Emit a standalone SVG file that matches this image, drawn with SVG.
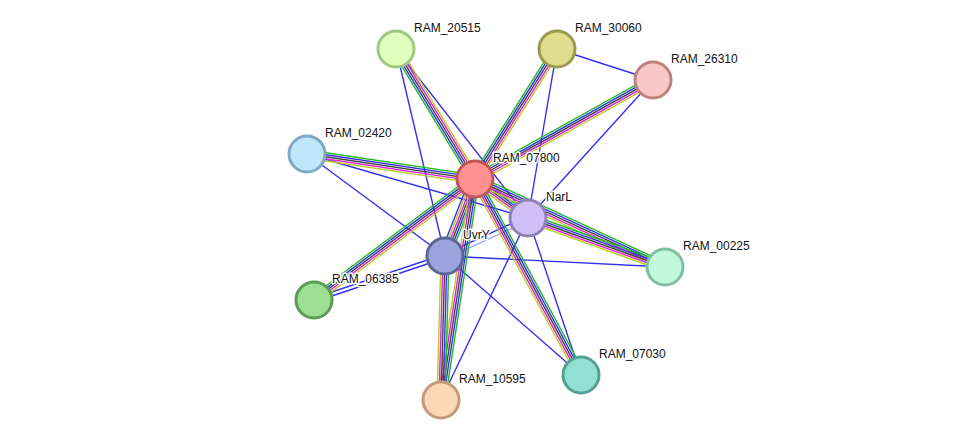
<svg xmlns="http://www.w3.org/2000/svg" width="976" height="446" viewBox="0 0 976 446">
<style>
.b line{stroke-width:1.4}
.g{stroke:#22bb22}.u{stroke:#3333ee}.k{stroke:#444}.m{stroke:#dd22dd}.y{stroke:#bbcc22}
.s{stroke:#3333ee;stroke-width:1.4}
circle{stroke-width:3}
text{font-family:"Liberation Sans",Arial,sans-serif;font-size:12px;fill:#111;stroke:#fff;stroke-width:3;paint-order:stroke;stroke-linejoin:round}
</style>
<rect width="976" height="446" fill="#fff"/>
<g id="connectors">
<line class="s" x1="396" y1="49" x2="445" y2="256"/>
<line class="s" x1="396" y1="49" x2="528" y2="218"/>
<line class="s" x1="557" y1="49" x2="528" y2="218"/>
<line class="s" x1="557" y1="49" x2="653" y2="80"/>
<line class="s" x1="653" y1="80" x2="528" y2="218"/>
<line class="s" x1="307" y1="154" x2="528" y2="218"/>
<line class="s" x1="307" y1="154" x2="445" y2="256"/>
<line class="s" x1="314" y1="298" x2="445" y2="254"/>
<line class="s" x1="314" y1="302" x2="445" y2="258"/>
<line class="s" x1="665" y1="267" x2="445" y2="256"/>
<line class="s" x1="581" y1="375" x2="445" y2="256"/>
<line class="s" x1="581" y1="375" x2="528" y2="218"/>
<line class="s" x1="441" y1="400" x2="528" y2="218"/>
<line class="s" x1="445" y1="254" x2="528" y2="216"/>
<line x1="445" y1="259" x2="528" y2="221" stroke="#99aaff" stroke-width="1.4"/>
<g class="b" transform="translate(475,179) rotate(-121.3)"><line class="g" x1="0" y1="-4" x2="152" y2="-4"/><line class="u" x1="0" y1="-2" x2="152" y2="-2"/><line class="k" x1="0" y1="0" x2="152" y2="0"/><line class="m" x1="0" y1="2" x2="152" y2="2"/><line class="y" x1="0" y1="4" x2="152" y2="4"/></g>
<g class="b" transform="translate(475,179) rotate(-57.8)"><line class="g" x1="0" y1="-4" x2="154" y2="-4"/><line class="u" x1="0" y1="-2" x2="154" y2="-2"/><line class="k" x1="0" y1="0" x2="154" y2="0"/><line class="m" x1="0" y1="2" x2="154" y2="2"/><line class="y" x1="0" y1="4" x2="154" y2="4"/></g>
<g class="b" transform="translate(475,179) rotate(-29.1)"><line class="g" x1="0" y1="-4" x2="204" y2="-4"/><line class="u" x1="0" y1="-2" x2="204" y2="-2"/><line class="k" x1="0" y1="0" x2="204" y2="0"/><line class="m" x1="0" y1="2" x2="204" y2="2"/><line class="y" x1="0" y1="4" x2="204" y2="4"/></g>
<g class="b" transform="translate(307,154) rotate(8.5)"><line class="g" x1="0" y1="-4" x2="170" y2="-4"/><line class="u" x1="0" y1="-2" x2="170" y2="-2"/><line class="k" x1="0" y1="0" x2="170" y2="0"/><line class="m" x1="0" y1="2" x2="170" y2="2"/><line class="y" x1="0" y1="4" x2="170" y2="4"/></g>
<g class="b" transform="translate(475,179) rotate(36.3)"><line class="g" x1="0" y1="-4" x2="66" y2="-4"/><line class="u" x1="0" y1="-2" x2="66" y2="-2"/><line class="k" x1="0" y1="0" x2="66" y2="0"/><line class="m" x1="0" y1="2" x2="66" y2="2"/><line class="y" x1="0" y1="4" x2="66" y2="4"/></g>
<g class="b" transform="translate(475,179) rotate(111.3)"><line class="g" x1="0" y1="-5" x2="83" y2="-5"/><line class="u" x1="0" y1="-3" x2="83" y2="-3"/><line class="k" x1="0" y1="-1" x2="83" y2="-1"/><line class="m" x1="0" y1="1" x2="83" y2="1"/><line class="y" x1="0" y1="3" x2="83" y2="3"/><line class="u" x1="0" y1="5" x2="83" y2="5"/></g>
<g class="b" transform="translate(475,179) rotate(24.8)"><line class="g" x1="0" y1="-4" x2="209" y2="-4"/><line class="u" x1="0" y1="-2" x2="209" y2="-2"/><line class="k" x1="0" y1="0" x2="209" y2="0"/><line class="m" x1="0" y1="2" x2="209" y2="2"/><line class="y" x1="0" y1="4" x2="209" y2="4"/></g>
<g class="b" transform="translate(475,179) rotate(143.1)"><line class="y" x1="0" y1="-4" x2="201" y2="-4"/><line class="m" x1="0" y1="-2" x2="201" y2="-2"/><line class="k" x1="0" y1="0" x2="201" y2="0"/><line class="u" x1="0" y1="2" x2="201" y2="2"/><line class="g" x1="0" y1="4" x2="201" y2="4"/></g>
<g class="b" transform="translate(475,179) rotate(61.6)"><line class="g" x1="0" y1="-4" x2="223" y2="-4"/><line class="u" x1="0" y1="-2" x2="223" y2="-2"/><line class="k" x1="0" y1="0" x2="223" y2="0"/><line class="m" x1="0" y1="2" x2="223" y2="2"/><line class="y" x1="0" y1="4" x2="223" y2="4"/></g>
<g class="b" transform="translate(475,179) rotate(98.7)"><line class="g" x1="0" y1="-4" x2="224" y2="-4"/><line class="u" x1="0" y1="-2" x2="224" y2="-2"/><line class="k" x1="0" y1="0" x2="224" y2="0"/><line class="m" x1="0" y1="2" x2="224" y2="2"/><line class="y" x1="0" y1="4" x2="224" y2="4"/></g>
<g class="b" transform="translate(445,256) rotate(91.6)"><line class="g" x1="0" y1="-4" x2="144" y2="-4"/><line class="u" x1="0" y1="-2" x2="144" y2="-2"/><line class="k" x1="0" y1="0" x2="144" y2="0"/><line class="m" x1="0" y1="2" x2="144" y2="2"/><line class="y" x1="0" y1="4" x2="144" y2="4"/></g>
<g class="b" transform="translate(528,218) rotate(19.7)"><line class="g" x1="0" y1="-4" x2="146" y2="-4"/><line class="u" x1="0" y1="-2" x2="146" y2="-2"/><line class="k" x1="0" y1="0" x2="146" y2="0"/><line class="m" x1="0" y1="2" x2="146" y2="2"/><line class="y" x1="0" y1="4" x2="146" y2="4"/></g>
</g>
<g id="n20515"><circle cx="396" cy="49" r="18" fill="#dfffbf" stroke="#a0c880"/><text x="414" y="32">RAM_20515</text></g>
<g id="n30060"><circle cx="557" cy="49" r="18" fill="#dede8e" stroke="#9a9a50"/><text x="575" y="32">RAM_30060</text></g>
<g id="n26310"><circle cx="653" cy="80" r="18" fill="#f8c8c8" stroke="#c08080"/><text x="671" y="63">RAM_26310</text></g>
<g id="n02420"><circle cx="307" cy="154" r="18" fill="#bfe6fb" stroke="#80a8c0"/><text x="325" y="137">RAM_02420</text></g>
<g id="n07800"><circle cx="475" cy="179" r="18" fill="#ff9090" stroke="#c05858"/><text x="493" y="162">RAM_07800</text></g>
<g id="nNarL"><circle cx="528" cy="218" r="18" fill="#d0c0f8" stroke="#9080b8"/><text x="546" y="201">NarL</text></g>
<g id="nUvrY"><circle cx="445" cy="256" r="18" fill="#9aa3dd" stroke="#5c6598"/><text x="463" y="239">UvrY</text></g>
<g id="n00225"><circle cx="665" cy="267" r="18" fill="#c2f8dc" stroke="#80c0a0"/><text x="683" y="250">RAM_00225</text></g>
<g id="n06385"><circle cx="314" cy="300" r="18" fill="#9ddf92" stroke="#5c9a55"/><text x="332" y="283">RAM_06385</text></g>
<g id="n07030"><circle cx="581" cy="375" r="18" fill="#92dfd3" stroke="#55a095"/><text x="599" y="358">RAM_07030</text></g>
<g id="n10595"><circle cx="441" cy="400" r="18" fill="#fcd8b7" stroke="#c09c7c"/><text x="459" y="383">RAM_10595</text></g>
</svg>
